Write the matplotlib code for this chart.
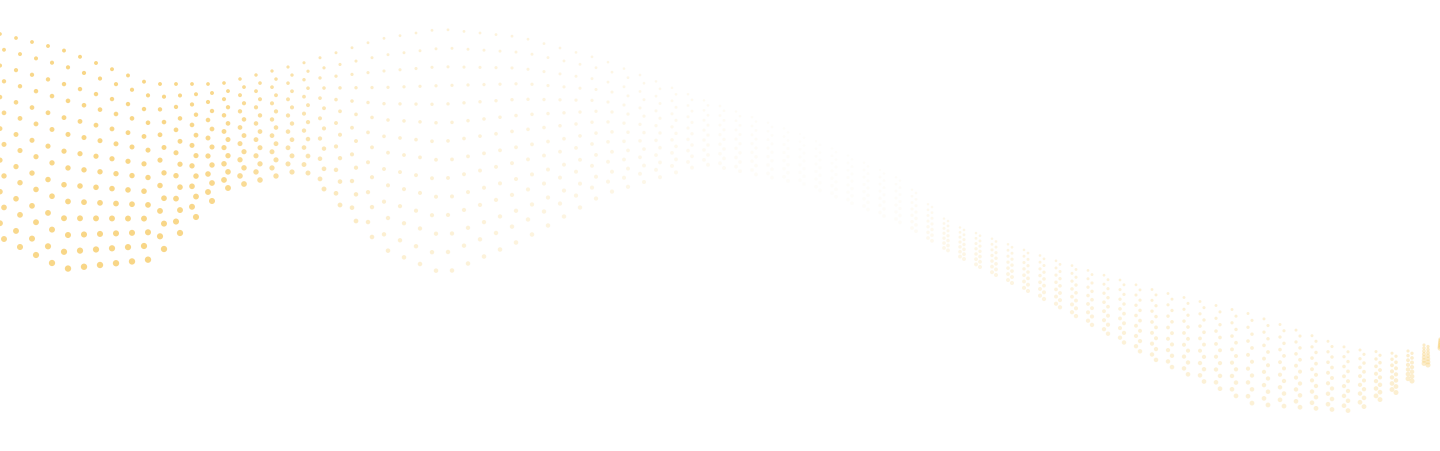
import numpy as np
import matplotlib.pyplot as plt

# wave outline (pixel coords, y downwards)
edge_x = [0, 60, 150, 220, 300, 380, 440, 520, 600, 700, 800, 900, 950, 1050, 1150, 1250, 1350, 1400, 1440]
top_y = [35, 50, 85, 85, 65, 40, 30, 38, 60, 100, 135, 180, 225, 260, 290, 315, 350, 355, 340]
bottom_y = [240, 270, 260, 190, 170, 250, 275, 240, 195, 165, 185, 225, 255, 305, 360, 405, 412, 390, 350]
edge_alpha = [0.85, 0.9, 0.9, 0.85, 0.6, 0.35, 0.3, 0.25, 0.2, 0.1, 0.03, 0.05, 0.18, 0.25, 0.3, 0.3, 0.3, 0.35, 0.45]
edge_size = [14, 16, 16, 14, 10, 8, 8, 8, 7, 6, 5, 5, 6, 7, 8, 9, 9, 10, 10]

n_rows = 14
dot_color = '#F8D27A'

fig = plt.figure(figsize=(14.4, 4.52), dpi=100)
ax = fig.add_axes([0, 0, 1, 1])
ax.set_xlim(0, 1440)
ax.set_ylim(452, 0)
ax.axis('off')

cols = np.arange(0, 1441, 16)
top = np.interp(cols, edge_x, top_y)
bot = np.interp(cols, edge_x, bottom_y)
alp = np.interp(cols, edge_x, edge_alpha)
siz = np.interp(cols, edge_x, edge_size)

for r in range(n_rows):
    t = r / (n_rows - 1)
    ys = top + (bot - top) * t
    # dots get a little bigger towards the lower rows
    s = siz * (0.5 + 0.8 * t)
    colors = [(0.973, 0.824, 0.478, a) for a in alp]
    ax.scatter(cols + (r % 2) * 4, ys, s=s, c=colors, linewidths=0)

fig.savefig('out.png', dpi=100, facecolor='white')
